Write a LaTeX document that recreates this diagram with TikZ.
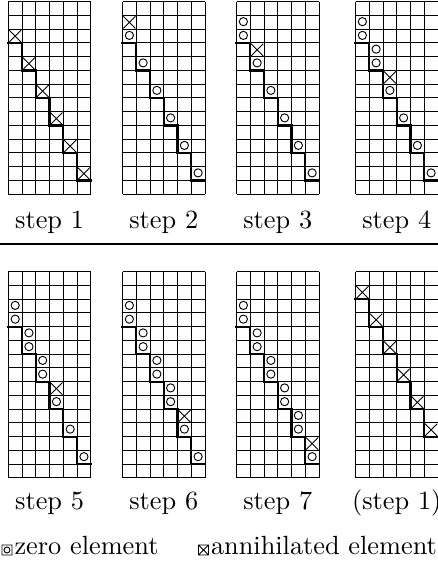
\documentclass[tikz,border=0pt]{standalone}
\def\cs{13.75}
% one square cell: cross / circle
\newcommand{\xcell}[2]{\draw[cell] ({(#1-1)*\cs+0.8},{(#2-1)*\cs+0.8}) -- ++({\cs-1.6},{\cs-1.6})
  ({#1*\cs-0.8},{(#2-1)*\cs+0.8}) -- ++({-\cs+1.6},{\cs-1.6});}
\newcommand{\zcell}[2]{\draw[cell] ({(#1-0.5)*\cs},{(#2-0.55)*\cs}) circle[radius=4.1];}
% grid with #1 rows
\newcommand{\matgrid}[1]{%
  \foreach \i in {0,...,6} \draw[cell] ({\i*\cs},0) -- ++(0,{#1*\cs});
  \foreach \j in {0,...,#1} \draw[cell] (0,{\j*\cs}) -- ++({6*\cs},0);}
% staircase, shifted by #1 rows
\newcommand{\stairs}[1]{\draw[stair] (0,{(3+#1)*\cs}) \foreach \k in {1,...,5} {-- ++(\cs,0) -- ++(0,{2*\cs})} -- ++(\cs,0);}
% zeros and the bulge in column #1, shifted by #2 rows
\newcommand{\chase}[2]{%
  \foreach \k in {1,...,6} {
    \ifnum\k<#1 \zcell{\k}{2*\k+#2}\fi
    \ifnum\k=#1 \xcell{\k}{2*\k+#2}\fi
    \zcell{\k}{2*\k+1+#2}
  }}
\begin{document}
\begin{tikzpicture}[x=0.38pt,y=-0.38pt]
  \tikzstyle{cell}=[line width=0.35pt]
  \tikzstyle{stair}=[line width=0.85pt, line cap=rect]
  \tikzstyle{lbl}=[anchor=base, inner sep=0pt]
  \useasboundingbox (0,0) rectangle (438,574);

  % top row
  \begin{scope}[shift={(8.3,1.7)}]
    \matgrid{14} \stairs{0}
    \foreach \k in {1,...,6} {\xcell{\k}{2*\k+1}}
  \end{scope}
  \begin{scope}[shift={(122.5,1.7)}]
    \matgrid{14} \stairs{0} \chase{1}{0}
  \end{scope}
  \begin{scope}[shift={(236.5,1.7)}]
    \matgrid{14} \stairs{0} \chase{2}{0}
  \end{scope}
  \begin{scope}[shift={(355.5,1.7)}]
    \matgrid{14} \stairs{0} \chase{3}{0}
  \end{scope}

  \node[lbl] (s1) at (49.6,228) {step 1};
  \node[lbl] (s2) at (163.8,228) {step 2};
  \node[lbl] (s3) at (277.8,228) {step 3};
  \node[lbl] (s4) at (396.8,228) {step 4};

  \draw[line width=0.4pt] (0,244) -- (438,244);

  % bottom row
  \begin{scope}[shift={(8.3,271.7)}]
    \matgrid{15} \stairs{1} \chase{4}{1}
  \end{scope}
  \begin{scope}[shift={(122.5,271.7)}]
    \matgrid{15} \stairs{1} \chase{5}{1}
  \end{scope}
  \begin{scope}[shift={(236.5,271.7)}]
    \matgrid{15} \stairs{1} \chase{6}{1}
  \end{scope}
  \begin{scope}[shift={(355.5,271.7)}]
    \matgrid{15} \stairs{-1}
    \foreach \k in {1,...,6} {\xcell{\k}{2*\k}}
  \end{scope}

  \node[lbl] (s5) at (49.6,509) {step 5};
  \node[lbl] (s6) at (163.8,509) {step 6};
  \node[lbl] (s7) at (277.8,509) {step 7};
  \node[lbl] (s8) at (396.8,509) {(step 1)};

  % legend
  \draw[cell] (2,545) rectangle (12,555) (7,550) circle[radius=3];
  \node[anchor=base west, inner sep=0pt] (zero) at (14,554.3) {zero element};
  \draw[cell] (198.5,545) rectangle (208.5,555) (198.5,545) -- (208.5,555) (208.5,545) -- (198.5,555);
  \node[anchor=base west, inner sep=0pt] (anni) at (210.5,554.3) {annihilated element};
\end{tikzpicture}
\end{document}
